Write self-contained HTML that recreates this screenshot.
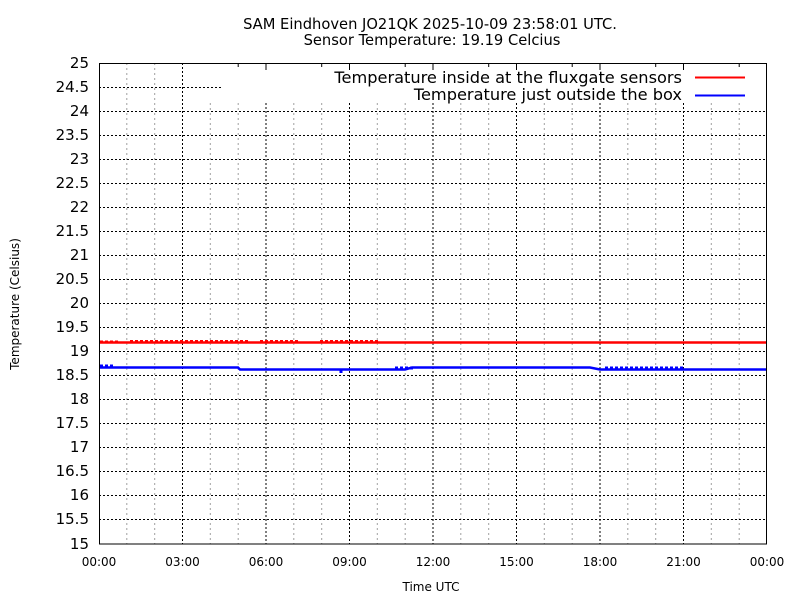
<!DOCTYPE html>
<html><head><meta charset="utf-8"><style>body{margin:0;background:#fff}svg{display:block}text{font-family:"DejaVu Sans","Liberation Sans",sans-serif;fill:#000}</style></head>
<body>
<svg width="800" height="600" viewBox="0 0 800 600" xmlns="http://www.w3.org/2000/svg">
<rect width="800" height="600" fill="#fff"/>
<text x="430" y="29" font-size="14.7" text-anchor="middle">SAM Eindhoven JO21QK 2025-10-09 23:58:01 UTC.</text>
<text x="432" y="45" font-size="14.7" text-anchor="middle">Sensor Temperature: 19.19 Celcius</text>
<g id="grid">
<g stroke="#a0a0a0" stroke-width="1" stroke-dasharray="2,3">
<line x1="126.8" y1="63" x2="126.8" y2="544"/><line x1="154.7" y1="63" x2="154.7" y2="544"/>
<line x1="210.3" y1="103" x2="210.3" y2="544"/><line x1="238.2" y1="103" x2="238.2" y2="544"/>
<line x1="293.8" y1="103" x2="293.8" y2="544"/><line x1="321.7" y1="103" x2="321.7" y2="544"/>
<line x1="377.3" y1="103" x2="377.3" y2="544"/><line x1="405.2" y1="103" x2="405.2" y2="544"/>
<line x1="460.8" y1="103" x2="460.8" y2="544"/><line x1="488.7" y1="103" x2="488.7" y2="544"/>
<line x1="544.3" y1="103" x2="544.3" y2="544"/><line x1="572.2" y1="103" x2="572.2" y2="544"/>
<line x1="627.8" y1="103" x2="627.8" y2="544"/><line x1="655.7" y1="103" x2="655.7" y2="544"/>
<line x1="711.3" y1="103" x2="711.3" y2="544"/><line x1="739.2" y1="103" x2="739.2" y2="544"/>
</g>
<g stroke="#000" stroke-width="1" stroke-dasharray="2,2">
<line x1="182.5" y1="63" x2="182.5" y2="544"/>
<line x1="266" y1="103" x2="266" y2="544"/><line x1="349.5" y1="103" x2="349.5" y2="544"/>
<line x1="433" y1="103" x2="433" y2="544"/><line x1="516.5" y1="103" x2="516.5" y2="544"/>
<line x1="600" y1="103" x2="600" y2="544"/><line x1="683.5" y1="103" x2="683.5" y2="544"/>
<line x1="99" y1="87.5" x2="222" y2="87.5"/>
<line x1="99" y1="111.5" x2="767" y2="111.5"/><line x1="99" y1="135.5" x2="767" y2="135.5"/>
<line x1="99" y1="159.5" x2="767" y2="159.5"/><line x1="99" y1="183.5" x2="767" y2="183.5"/>
<line x1="99" y1="207.5" x2="767" y2="207.5"/><line x1="99" y1="231.5" x2="767" y2="231.5"/>
<line x1="99" y1="255.5" x2="767" y2="255.5"/><line x1="99" y1="279.5" x2="767" y2="279.5"/>
<line x1="99" y1="303.5" x2="767" y2="303.5"/><line x1="99" y1="327.5" x2="767" y2="327.5"/>
<line x1="99" y1="351.5" x2="767" y2="351.5"/><line x1="99" y1="375.5" x2="767" y2="375.5"/>
<line x1="99" y1="399.5" x2="767" y2="399.5"/><line x1="99" y1="423.5" x2="767" y2="423.5"/>
<line x1="99" y1="447.5" x2="767" y2="447.5"/><line x1="99" y1="471.5" x2="767" y2="471.5"/>
<line x1="99" y1="495.5" x2="767" y2="495.5"/><line x1="99" y1="519.5" x2="767" y2="519.5"/>
</g>
</g>
<g stroke="#000" stroke-width="1">
<line x1="266" y1="63" x2="266" y2="70"/><line x1="349.5" y1="63" x2="349.5" y2="70"/><line x1="433" y1="63" x2="433" y2="70"/><line x1="516.5" y1="63" x2="516.5" y2="70"/><line x1="600" y1="63" x2="600" y2="70"/><line x1="683.5" y1="63" x2="683.5" y2="70"/>
<line x1="238.2" y1="63" x2="238.2" y2="67"/><line x1="321.7" y1="63" x2="321.7" y2="67"/><line x1="405.2" y1="63" x2="405.2" y2="67"/><line x1="488.7" y1="63" x2="488.7" y2="67"/><line x1="572.2" y1="63" x2="572.2" y2="67"/><line x1="655.7" y1="63" x2="655.7" y2="67"/><line x1="739.2" y1="63" x2="739.2" y2="67"/>
</g>
<polyline fill="none" stroke="#f00" stroke-width="2.5" points="99,342.5 767,342.5"/>
<path d="M130,341.5h120 M260,341.5h40 M320,341.5h60 M100,342h20" stroke="#f00" stroke-width="3" stroke-dasharray="3,2"/>
<polyline fill="none" stroke="#00f" stroke-width="2.5" points="99,367.5 238,367.5 240,369.5 405,369.5 412,367.5 590,367.5 600,369.5 660,369.5 683,369.5 767,369.5"/>
<path d="M100,366h15 M341,370v5 M395,368h20 M605,368h80" stroke="#00f" stroke-width="3" stroke-dasharray="3,2"/>
<rect x="99.5" y="63.5" width="667" height="480.5" fill="none" stroke="#000" stroke-width="1"/>
<text x="682" y="83" font-size="16.2" text-anchor="end">Temperature inside at the fluxgate sensors</text>
<line x1="695" y1="77.5" x2="745" y2="77.5" stroke="#f00" stroke-width="2"/>
<text x="682" y="100" font-size="16.2" text-anchor="end">Temperature just outside the box</text>
<line x1="695" y1="95.5" x2="745" y2="95.5" stroke="#00f" stroke-width="2"/>
<g font-size="15" text-anchor="end">
<text x="89" y="68">25</text><text x="89" y="92">24.5</text><text x="89" y="116">24</text><text x="89" y="140">23.5</text><text x="89" y="164">23</text><text x="89" y="188">22.5</text><text x="89" y="212">22</text><text x="89" y="236">21.5</text><text x="89" y="260">21</text><text x="89" y="284">20.5</text><text x="89" y="308">20</text><text x="89" y="332">19.5</text><text x="89" y="356">19</text><text x="89" y="380">18.5</text><text x="89" y="404">18</text><text x="89" y="428">17.5</text><text x="89" y="452">17</text><text x="89" y="476">16.5</text><text x="89" y="500">16</text><text x="89" y="524">15.5</text><text x="89" y="549">15</text>
</g>
<g font-size="12" text-anchor="middle">
<text x="99" y="566">00:00</text><text x="182.5" y="566">03:00</text><text x="266" y="566">06:00</text><text x="349.5" y="566">09:00</text><text x="433" y="566">12:00</text><text x="516.5" y="566">15:00</text><text x="600" y="566">18:00</text><text x="683.5" y="566">21:00</text><text x="767" y="566">00:00</text>
</g>
<text x="431" y="591" font-size="12" text-anchor="middle">Time UTC</text>
<text transform="translate(19,304) rotate(-90)" font-size="12" text-anchor="middle">Temperature (Celsius)</text>
</svg>
</body></html>
